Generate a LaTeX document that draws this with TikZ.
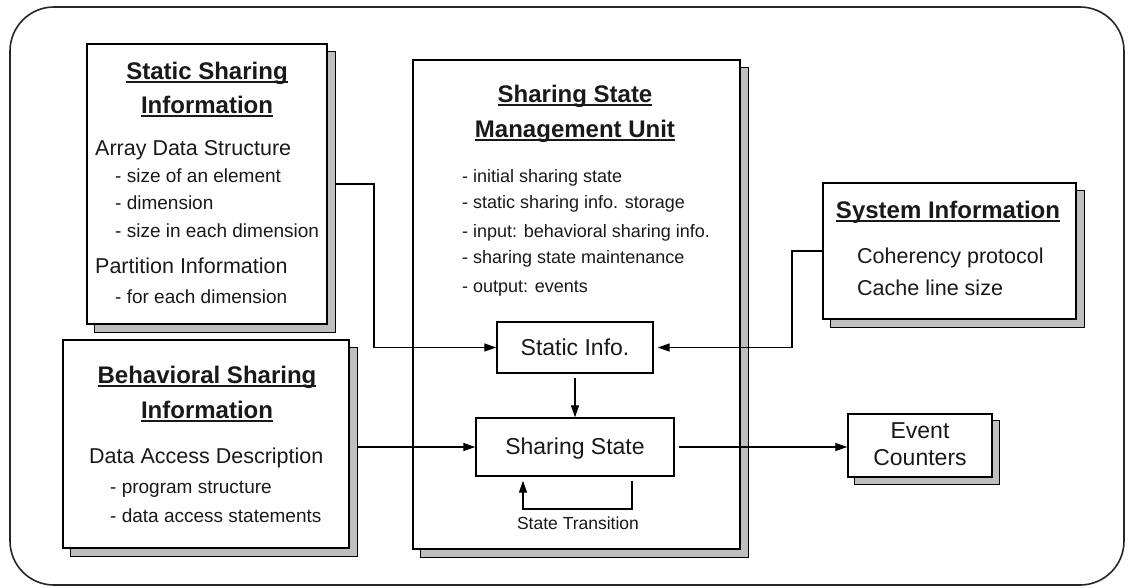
\documentclass[tikz,border=0pt]{standalone}
\usepackage{fontspec}
\setmainfont{Liberation Sans}
\usetikzlibrary{arrows.meta,calc}
\pgfdeclarelayer{bg}
\pgfsetlayers{bg,main}

% underlined heading text, rule just below the baseline
\newcommand\ulined[1]{\setbox0\hbox{#1}\rlap{\rule[-3.6pt]{\wd0}{1.3pt}}\box0}
\newcommand\fs[1]{\fontsize{#1}{#1}\selectfont}

\tikzset{
  box/.style={draw=black, line width=1.4pt, fill=white, inner sep=0pt},
  shadowbig/.style={draw=black, line width=1.2pt, fill=gray!50},
  shadowsmall/.style={draw=black, line width=1pt, fill=gray!30},
  heading/.style={anchor=base, inner sep=0pt, font=\fs{24}\bfseries, text=black!90},
  bodytext/.style={anchor=base west, inner sep=0pt, font=\fs{21.5}, text=black!90},
  subtext/.style={anchor=base west, inner sep=0pt, font=\fs{19}, text=black!90},
  bullet/.style={anchor=base west, inner sep=0pt, font=\fs{18}, text=black!90},
  label/.style={anchor=base, inner sep=0pt, font=\fs{23}, text=black!90},
  arr/.style={line width=1.3pt, draw=black, -{Triangle[length=12pt,width=8pt]}},
  conn/.style={line width=1.3pt, draw=black}
}

% shadow drawn behind a box: node name, offset
\newcommand\boxshadow[3]{%
  \begin{pgfonlayer}{bg}
    \draw[#3] ($(#1.south west)+(#2,#2)$) rectangle ($(#1.north east)+(#2,#2)$);
  \end{pgfonlayer}}

\begin{document}
\begin{tikzpicture}[x=1pt, y=-1pt]
\useasboundingbox (0,0) rectangle (1129,587);

% outer frame
\draw[line width=1.6pt, draw=black!85, rounded corners=44pt] (10,7) rectangle (1124,585);

% boxes
\node[box, minimum width=240pt, minimum height=280pt] (ssi) at (207,184) {};
\node[box, minimum width=286pt, minimum height=208pt] (bsi) at (206,444) {};
\node[box, minimum width=327pt, minimum height=489pt] (ssmu) at (576.5,304.5) {};
\node[box, minimum width=253pt, minimum height=136pt] (sys) at (949.5,251) {};
\node[box, minimum width=156pt, minimum height=51pt] (sinfo) at (575,347.5) {};
\node[box, minimum width=198pt, minimum height=58pt] (sstate) at (575,447) {};
\node[box, minimum width=144pt, minimum height=63pt] (event) at (920,445.5) {};

\boxshadow{ssi}{8}{shadowbig}
\boxshadow{bsi}{8}{shadowbig}
\boxshadow{ssmu}{8}{shadowbig}
\boxshadow{sys}{8}{shadowbig}
\boxshadow{event}{7}{shadowbig}
\boxshadow{sinfo}{4}{shadowsmall}
\boxshadow{sstate}{4}{shadowsmall}

% Static Sharing Information
\node[heading] (ssiT1) at (207,79) {\ulined{Static Sharing}};
\node[heading] (ssiT2) at (207,113) {\ulined{Information}};
\node[bodytext] (ssiA) at (95,155) {Array Data Structure};
\node[subtext] (ssiA1) at (115,182) {- size of an element};
\node[subtext] (ssiA2) at (115,209) {- dimension};
\node[subtext] (ssiA3) at (115,237) {- size in each dimension};
\node[bodytext] (ssiP) at (95,273) {Partition Information};
\node[subtext] (ssiP1) at (115,303) {- for each dimension};

% Behavioral Sharing Information
\node[heading] (bsiT1) at (207,383) {\ulined{Behavioral Sharing}};
\node[heading] (bsiT2) at (207,418) {\ulined{Information}};
\node[bodytext] (bsiD) at (89,463) {Data Access Description};
\node[subtext] (bsiD1) at (110,493) {- program structure};
\node[subtext] (bsiD2) at (110,522) {- data access statements};

% Sharing State Management Unit
\node[heading] (ssmuT1) at (575,102) {\ulined{Sharing State}};
\node[heading] (ssmuT2) at (575,137) {\ulined{Management Unit}};
\node[bullet] (ssmuB1) at (462,182) {- initial sharing state};
\node[bullet] (ssmuB2) at (462,208) {- static sharing info. storage};
\node[bullet] (ssmuB3) at (462,237) {- input: behavioral sharing info.};
\node[bullet] (ssmuB4) at (462,263) {- sharing state maintenance};
\node[bullet] (ssmuB5) at (462,292) {- output: events};

% System Information
\node[heading] (sysT) at (948,218) {\ulined{System Information}};
\node[bodytext] (sys1) at (857,263) {Coherency protocol};
\node[bodytext] (sys2) at (857,295) {Cache line size};

% small boxes
\node[label] (sinfoL) at (575,355) {Static Info.};
\node[label] (sstateL) at (575,454) {Sharing State};
\node[label] (eventL1) at (920,438) {Event};
\node[label] (eventL2) at (920,465) {Counters};
\node[anchor=base, inner sep=0pt, font=\fs{17.5}, text=black!90] (transL) at (578,529) {State Transition};

% connectors
\coordinate (bendA) at (374,184);
\coordinate (bendB) at (792,251);
\coordinate (loopR) at (632,509);
\coordinate (loopL) at (523,509);

\draw[arr] ($(ssi.east)+(8,0)$) -- (bendA) |- (sinfo.west);
\draw[arr] (sys.west) -- (bendB) |- ($(sinfo.east)+(4,0)$);
\draw[arr] ($(sinfo.south)+(0,4)$) -- (sstate.north);
\draw[arr] ($(bsi.east |- sstate.west)+(8,0)$) -- (sstate.west);
\draw[arr] ($(sstate.east)+(4,0)$) -- (sstate.east -| event.west);
\draw[arr] ($(sstate.south -| loopR)+(0,4)$) -- (loopR) -- (loopL) -- ($(sstate.south -| loopL)+(0,4)$);
\end{tikzpicture}
\end{document}
